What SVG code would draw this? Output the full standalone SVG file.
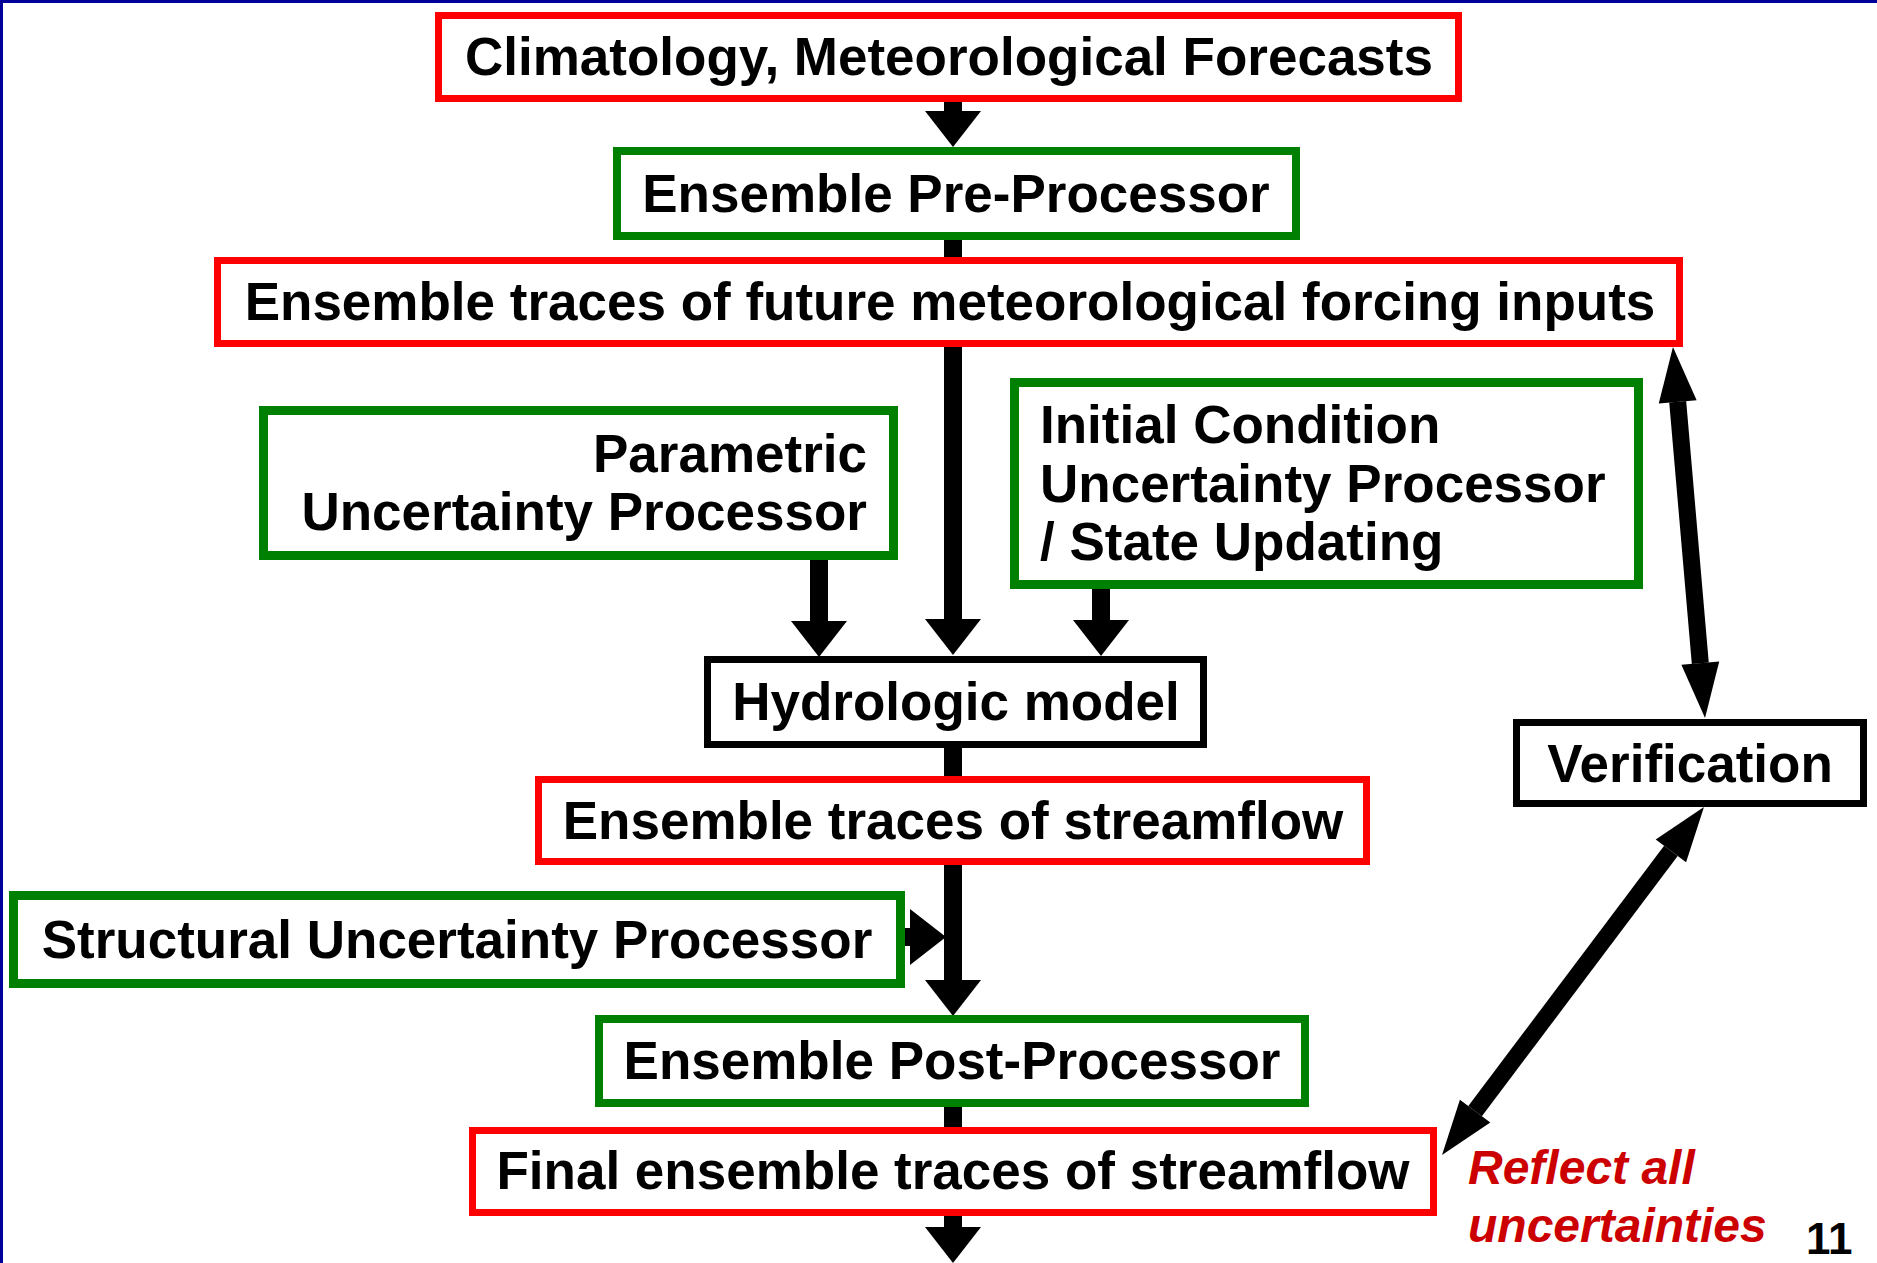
<svg xmlns="http://www.w3.org/2000/svg" width="1877" height="1263" viewBox="0 0 1877 1263">
<style>
.box{fill:#fff}
.red{stroke:#ff0000;stroke-width:7}
.green{stroke:#008000;stroke-width:9}
.green8{stroke:#008000;stroke-width:8}
.black{stroke:#000;stroke-width:7}
.t{font-family:"Liberation Sans",Arial,Helvetica,sans-serif;font-weight:bold;font-size:53px;fill:#000}
.c{text-anchor:middle}
.e{text-anchor:end}
.note{font-family:"Liberation Sans",Arial,Helvetica,sans-serif;font-weight:bold;font-style:italic;font-size:48px;fill:#cc0000}
.num{font-family:"Liberation Sans",Arial,Helvetica,sans-serif;font-weight:bold;font-size:44px;fill:#000}
.flow{stroke:#000;stroke-width:18;fill:none}
.flow2{stroke:#000;stroke-width:17;fill:none}
</style>
<defs>
<marker id="ah" markerUnits="userSpaceOnUse" markerWidth="36" markerHeight="56" refX="0" refY="28" orient="auto" overflow="visible">
<path d="M0,0 L36,28 L0,56 Z" fill="#000"/>
</marker>
<marker id="ah2" markerUnits="userSpaceOnUse" markerWidth="55" markerHeight="38" refX="0" refY="19" orient="auto-start-reverse" overflow="visible">
<path d="M0,0 L55,19 L0,38 Z" fill="#000"/>
</marker>
</defs>
<rect x="0" y="0" width="1877" height="1263" fill="#fff"/>
<rect x="0" y="0" width="1877" height="3" fill="#000099"/>
<rect x="0" y="0" width="3" height="1263" fill="#000099"/>

<g id="connectors">
<line class="flow" x1="953" y1="102" x2="953" y2="111" marker-end="url(#ah)"/>
<line class="flow" x1="953" y1="238" x2="953" y2="259"/>
<line class="flow" x1="953" y1="347" x2="953" y2="619" marker-end="url(#ah)"/>
<line class="flow" x1="819" y1="558" x2="819" y2="621" marker-end="url(#ah)"/>
<line class="flow" x1="1101" y1="587" x2="1101" y2="620" marker-end="url(#ah)"/>
<line class="flow" x1="953" y1="746" x2="953" y2="778"/>
<line class="flow" x1="953" y1="863" x2="953" y2="980" marker-end="url(#ah)"/>
<line class="flow" x1="903" y1="937" x2="910" y2="937" marker-end="url(#ah)"/>
<line class="flow" x1="953" y1="1105" x2="953" y2="1129"/>
<line class="flow" x1="953" y1="1214" x2="953" y2="1227" marker-end="url(#ah)"/>
<line class="flow2" x1="1677.7" y1="401.8" x2="1700.3" y2="663.2" marker-start="url(#ah2)" marker-end="url(#ah2)"/>
<line class="flow2" x1="1475.1" y1="1111.1" x2="1670.9" y2="850.9" marker-start="url(#ah2)" marker-end="url(#ah2)"/>
</g>

<g id="climatology">
<rect class="box red" x="438.5" y="15.5" width="1020" height="83"/>
<text class="t c" x="949" y="75">Climatology, Meteorological Forecasts</text>
</g>
<g id="pre-processor">
<rect class="box green8" x="617" y="151" width="679" height="85"/>
<text class="t c" x="956" y="212">Ensemble Pre-Processor</text>
</g>
<g id="forcing-traces">
<rect class="box red" x="217.5" y="260.5" width="1462" height="83"/>
<text class="t c" x="950" y="320">Ensemble traces of future meteorological forcing inputs</text>
</g>
<g id="parametric">
<rect class="box green" x="263.5" y="410.5" width="630" height="145"/>
<text class="t e" x="867" y="472">Parametric</text>
<text class="t e" x="867" y="530">Uncertainty Processor</text>
</g>
<g id="initial-condition">
<rect class="box green" x="1014.5" y="382.5" width="624" height="202"/>
<text class="t" x="1040" y="443">Initial Condition</text>
<text class="t" x="1040" y="502">Uncertainty Processor</text>
<text class="t" x="1040" y="560">/ State Updating</text>
</g>
<g id="hydrologic-model">
<rect class="box black" x="707.5" y="659.5" width="496" height="85"/>
<text class="t c" x="956" y="720">Hydrologic model</text>
</g>
<g id="verification">
<rect class="box black" x="1516.5" y="722.5" width="347" height="81"/>
<text class="t c" x="1690" y="782">Verification</text>
</g>
<g id="streamflow-traces">
<rect class="box red" x="538.5" y="779.5" width="828" height="82"/>
<text class="t c" x="953" y="839">Ensemble traces of streamflow</text>
</g>
<g id="structural">
<rect class="box green" x="13.5" y="895.5" width="887" height="88"/>
<text class="t c" x="457" y="958">Structural Uncertainty Processor</text>
</g>
<g id="post-processor">
<rect class="box green8" x="599" y="1019" width="706" height="84"/>
<text class="t c" x="952" y="1079">Ensemble Post-Processor</text>
</g>
<g id="final-traces">
<rect class="box red" x="472.5" y="1130.5" width="961" height="82"/>
<text class="t c" x="953" y="1189">Final ensemble traces of streamflow</text>
</g>
<g id="note">
<text class="note" x="1468" y="1184">Reflect all</text>
<text class="note" x="1468" y="1242">uncertainties</text>
</g>
<text class="num" x="1806" y="1254">11</text>
</svg>
